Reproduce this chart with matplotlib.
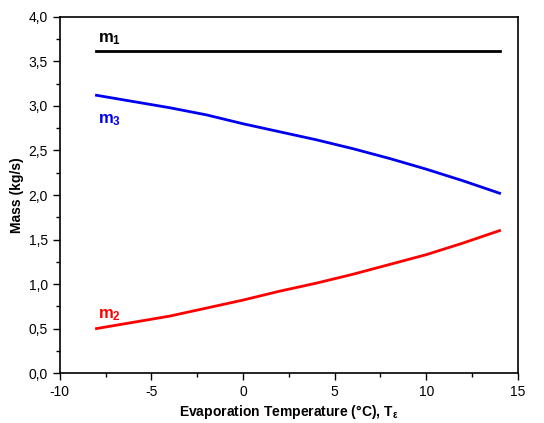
import numpy as np
import matplotlib
matplotlib.use("Agg")
from matplotlib import pyplot as plt
from matplotlib.ticker import MultipleLocator, FuncFormatter

plt.rcParams['font.family'] = ['Liberation Sans', 'DejaVu Sans']
plt.rcParams['mathtext.fontset'] = 'custom'
plt.rcParams['mathtext.rm'] = 'Liberation Sans'
plt.rcParams['mathtext.bf'] = 'Liberation Sans:bold'
plt.rcParams['mathtext.it'] = 'Liberation Sans:italic'
plt.rcParams['axes.unicode_minus'] = False

# Evaporation temperature (°C)
temps = [-8, -6, -4, -2, 0, 2, 4, 6, 8, 10, 12, 14]
m1 = [3.62] * len(temps)
m3 = [3.12, 3.05, 2.98, 2.90, 2.80, 2.71, 2.62, 2.52, 2.41, 2.29, 2.16, 2.02]
m2 = [0.50, 0.57, 0.64, 0.73, 0.82, 0.92, 1.01, 1.11, 1.22, 1.33, 1.46, 1.60]

fig = plt.figure(figsize=(5.44, 4.23), dpi=100)
ax = fig.add_axes([0.110, 0.118, 0.842, 0.842])

ax.plot(temps, m1, c='black', lw=2)
ax.plot(temps, m3, c='#0000ee', lw=2)
ax.plot(temps, m2, c='#ff0000', lw=2)

ax.text(-7.9, 3.72, r'm$_\mathregular{1}$', fontsize=12, fontweight='bold', color='black')
ax.text(-7.9, 2.81, r'm$_\mathregular{3}$', fontsize=12, fontweight='bold', color='#0000ee')
ax.text(-7.9, 0.62, r'm$_\mathregular{2}$', fontsize=12, fontweight='bold', color='#ff0000')

ax.set_xlim(-10, 15)
ax.set_ylim(0, 4)
ax.xaxis.set_major_locator(MultipleLocator(5))
ax.xaxis.set_minor_locator(MultipleLocator(2.5))
ax.yaxis.set_major_locator(MultipleLocator(0.5))
ax.yaxis.set_minor_locator(MultipleLocator(0.25))
ax.yaxis.set_major_formatter(FuncFormatter(lambda v, p: f"{v:.1f}".replace('.', ',')))
ax.tick_params(which='major', direction='out', length=5, width=1, labelsize=10)
ax.tick_params(which='minor', direction='out', length=3, width=1)
for s in ax.spines.values():
    s.set_linewidth(1.2)

ax.set_xlabel(r'Evaporation Temperature (°C), T$_\mathbf{\epsilon}$', fontsize=10, fontweight='bold', labelpad=3)
ax.set_ylabel('Mass (kg/s)', fontsize=10, fontweight='bold', labelpad=3)

fig.savefig('out.png', dpi=100)
